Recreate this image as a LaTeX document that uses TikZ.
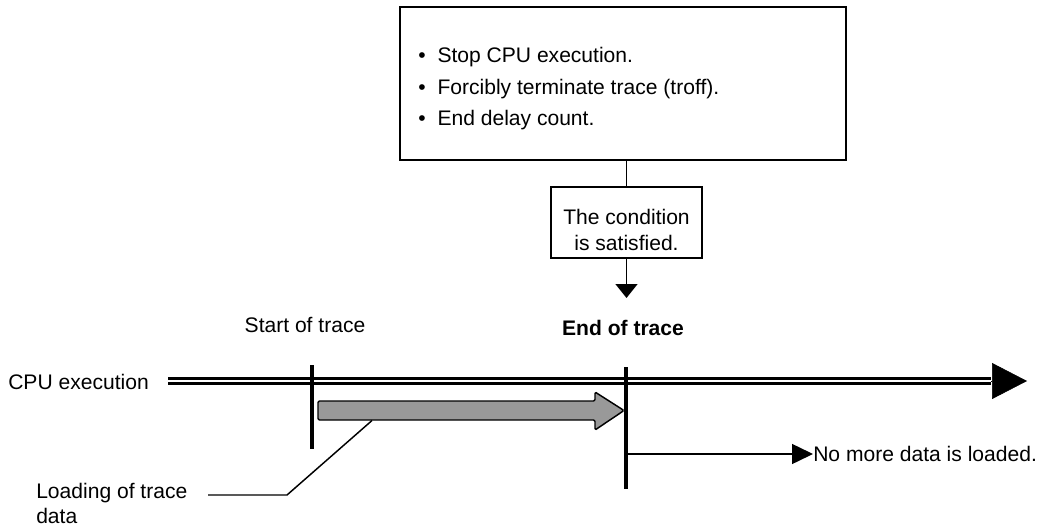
\documentclass[tikz,border=0pt]{standalone}
\usepackage{fontspec}
\setmainfont{Liberation Sans}
\usetikzlibrary{arrows.meta}
\definecolor{loadgray}{RGB}{153,153,153}
\tikzset{
  every node/.style={font=\fontsize{15.8}{19}\selectfont, inner sep=0pt},
  frame/.style={draw, line width=1.5pt},
  link/.style={line width=1.1pt},
  marker/.style={line width=3pt},
}

\begin{document}
\begin{tikzpicture}[x=0.75pt, y=-0.75pt]
    \useasboundingbox (0,0) rectangle (1045,528);
    % actions when the condition holds
    \node[frame, minimum width=334.5pt, minimum height=114.75pt] (actbox) at (623,83.5) {};
    \node[anchor=north west, align=left, font=\fontsize{15.8}{23.75}\selectfont] (actlist) at (418,47) {%
        \textbullet\hspace{8.9pt}Stop CPU execution.\\
        \textbullet\hspace{8.9pt}Forcibly terminate trace (troff).\\
        \textbullet\hspace{8.9pt}End delay count.};
    \node[draw, link, minimum width=113.25pt, minimum height=53.25pt] (cond) at (626.5,222.5) {};
    \node[anchor=north, align=center, font=\fontsize{15.8}{19.5}\selectfont] (condtext) at (626.5,208.5) {The condition\\is satisfied.};
    \coordinate (condtip) at (626.5,298);
    \draw[link] (actbox.south -| cond) -- (cond.north);
    \draw[link, -{Triangle[length=10.5pt, width=16.5pt]}] (cond.south) -- (condtip);
    % labels
    \node[anchor=base] (starttext) at (305,332) {Start of trace};
    \node[anchor=base, font=\fontsize{15.8}{19}\selectfont\bfseries] (endtext) at (623,335) {End of trace};
    \node[anchor=base west] (cpu) at (8,389) {CPU execution};
    % time line
    \coordinate (tlstart) at (168,381);
    \coordinate (tlhead) at (991,381);
    \coordinate (tlend) at (1027,381);
    \draw[line width=2pt, double=white, double distance=1.7pt] (tlstart) -- (tlhead);
    \draw[-{Triangle[length=26.25pt, width=27pt]}] (tlhead) -- (tlend);
    \draw[marker] (312,365) -- (312,449);
    \draw[marker] (626,367) -- (626,489);
    % trace data being loaded
    \draw[link, fill=loadgray, rounded corners=1pt] (318,401) -- (595,401) -- (595,392) -- (624,410.5)
        -- (595,430) -- (595,420) -- (318,420) -- cycle;
    \node[anchor=north west, align=left, font=\fontsize{15.8}{18.75}\selectfont] (loadtext) at (36,483) {Loading of trace\\data};
    \draw[link] (372,420.5) -- (287,495) -- (208,495);
    \node[anchor=west] (nomore) at (813,454) {No more data is loaded.};
    \draw[link, -{Triangle[length=15.75pt, width=15pt]}] (628,454) -- (nomore.west);
\end{tikzpicture}
\end{document}
